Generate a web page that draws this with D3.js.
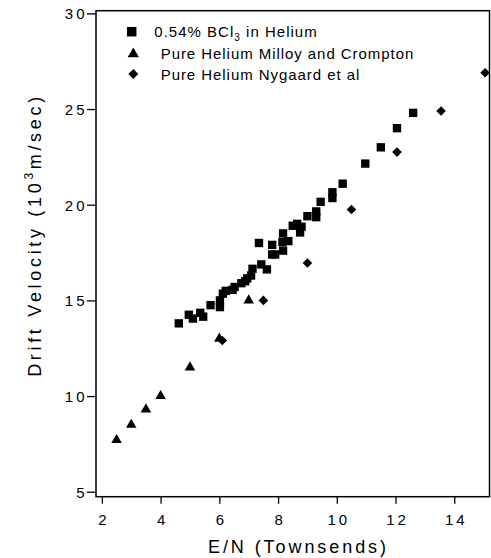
<!DOCTYPE html>
<html><head><meta charset="utf-8">
<script src="https://cdn.jsdelivr.net/npm/d3@7"></script>
<style>
body{margin:0;background:#fff}
text{font-family:"Liberation Sans",Arial,Helvetica,sans-serif;fill:#000}
</style>
</head><body>
<svg id="c" width="491" height="558"></svg>
<script>
// ---- data ----
const bclX = [4.62,4.96,5.1,5.35,5.45,5.7,6.02,6.02,6.12,6.22,6.45,6.52,6.75,6.88,6.95,7.08,7.13,7.43,7.62,7.35,7.8,7.8,7.9,8.17,8.15,8.35,8.17,8.5,8.65,8.8,8.75,9.0,9.3,9.3,9.45,9.85,9.85,10.2,10.97,11.5,12.05,12.6];
const bclY = [13.8,14.25,14.05,14.35,14.15,14.75,15.0,14.65,15.35,15.5,15.55,15.7,15.9,16.0,16.15,16.3,16.65,16.88,16.62,18.0,17.9,17.4,17.4,17.6,18.05,18.1,18.5,18.9,19.0,18.85,18.55,19.4,19.65,19.35,20.15,20.65,20.35,21.1,22.15,23.0,24.0,24.8];
const milloyX = [2.5,3,3.5,4,5,6,7];
const milloyY = [7.7,8.5,9.3,10.0,11.5,13.0,15.0];
const nygaardX = [6.1,7.5,9.0,10.5,12.05,13.55,15.05];
const nygaardY = [12.9,15.0,16.95,19.75,22.75,24.9,26.9];
const xTicks = [2,4,6,8,10,12,14];
const yTicks = [5,10,15,20,25,30];
const legendLabels = ["0.54% BCl", "Pure Helium Milloy and Crompton", "Pure Helium Nygaard et al"];

// ---- chart ----
const svg = d3.select("#c");
const x = d3.scaleLinear().domain([1.8,15.2]).range([96,489.5]);
const y = d3.scaleLinear().domain([4.74,30.14]).range([496.7,10.7]);

function spaceTo(sel, target){
  const node = sel.node();
  const n = node.textContent.length;
  const L = node.getComputedTextLength();
  sel.style("letter-spacing", Math.max(0,(target - L)/(n-1)) + "px");
}

// frame
svg.append("rect").attr("x",x(1.8)).attr("y",y(30.14))
  .attr("width",x(15.2)-x(1.8)).attr("height",y(4.74)-y(30.14))
  .attr("fill","none").attr("stroke","#000").attr("stroke-width",1.5);

// x axis
const gx = svg.append("g").attr("transform",`translate(0,${y(4.74)})`)
  .call(d3.axisBottom(x).tickValues(xTicks).tickSize(7).tickSizeOuter(0));
gx.select(".domain").remove();
gx.selectAll(".tick line").attr("stroke","#000").attr("stroke-width",1.3);
gx.selectAll(".tick text").attr("y",28).attr("dy",0).attr("dx",1.5)
  .style("font-size","15px").style("letter-spacing","3px");

// y axis
const gy = svg.append("g").attr("transform",`translate(${x(1.8)},0)`)
  .call(d3.axisLeft(y).tickValues(yTicks).tickSize(9).tickSizeOuter(0));
gy.select(".domain").remove();
gy.selectAll(".tick line").attr("stroke","#000").attr("stroke-width",1.3);
gy.selectAll(".tick text").attr("x",-8.5).attr("dy","0.36em")
  .style("font-size","15px").style("letter-spacing","3px");

// axis titles
const xt = svg.append("text").attr("x",208).attr("y",553).style("font-size","18px").text("E/N (Townsends)");
spaceTo(xt,178);

const yt = svg.append("text").attr("transform","translate(41,235) rotate(-90)")
  .attr("text-anchor","middle").style("font-size","18px");
yt.append("tspan").text("Drift Velocity (10");
yt.append("tspan").attr("dy",-8).style("font-size","12px").text("3");
yt.append("tspan").attr("dy",8).text("m/sec)");
spaceTo(yt,280);

// markers
const sq = d3.symbol(d3.symbolSquare, 70)();
const tri = d3.symbol(d3.symbolTriangle, 48)();
const dia = d3.symbol(d3.symbolSquare, 46)();

svg.append("g").selectAll("path").data(bclX.map((v,i)=>[v,bclY[i]])).join("path")
  .attr("d",sq).attr("transform",d=>`translate(${x(d[0])},${y(d[1])})`).attr("fill","#000");
svg.append("g").selectAll("path").data(milloyX.map((v,i)=>[v,milloyY[i]])).join("path")
  .attr("d",tri).attr("transform",d=>`translate(${x(d[0])},${y(d[1])})`).attr("fill","#000");
svg.append("g").selectAll("path").data(nygaardX.map((v,i)=>[v,nygaardY[i]])).join("path")
  .attr("d",dia).attr("transform",d=>`translate(${x(d[0])},${y(d[1])}) rotate(45)`).attr("fill","#000");

// legend
const lg = svg.append("g");
lg.append("path").attr("d",d3.symbol(d3.symbolSquare,90)()).attr("transform","translate(131.7,31.7)");
lg.append("path").attr("d",d3.symbol(d3.symbolTriangle,55)()).attr("transform","translate(133.3,54)");
lg.append("path").attr("d",d3.symbol(d3.symbolSquare,50)()).attr("transform","translate(133.3,74) rotate(45)");

const l1 = lg.append("text").attr("x",154.3).attr("y",36.7).style("font-size","15px");
l1.append("tspan").text(legendLabels[0]);
l1.append("tspan").attr("dy",4).style("font-size","10px").text("3");
l1.append("tspan").attr("dy",-4).text(" in Helium");
spaceTo(l1,162.4);
const l2 = lg.append("text").attr("x",160.7).attr("y",59.3).style("font-size","15px").text(legendLabels[1]);
spaceTo(l2,252.6);
const l3 = lg.append("text").attr("x",160.7).attr("y",80).style("font-size","15px").text(legendLabels[2]);
spaceTo(l3,198.6);
</script>
</body></html>
